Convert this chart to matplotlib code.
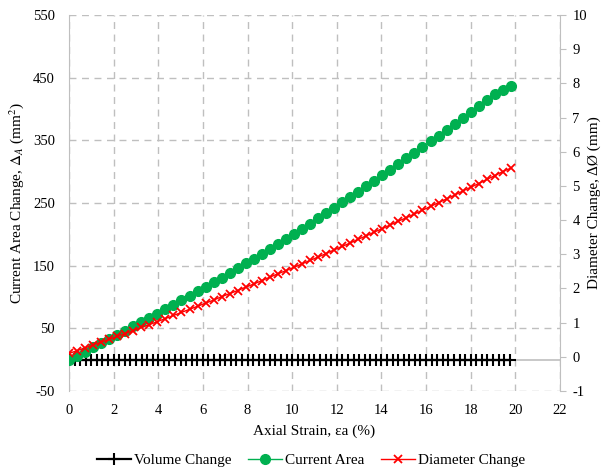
import matplotlib
matplotlib.use("Agg")
import matplotlib.pyplot as plt

plt.rcParams['font.family'] = ['Liberation Serif', 'DejaVu Serif']
plt.rcParams['axes.unicode_minus'] = False
plt.rcParams['mathtext.fontset'] = 'stix'

# Axial strain (%) sample points for area / diameter series
strain = [0, 0.36, 0.72, 1.08, 1.44, 1.8, 2.16, 2.52, 2.88, 3.24, 3.6, 3.96, 4.32, 4.68,
          5.04, 5.4, 5.76, 6.12, 6.48, 6.84, 7.2, 7.56, 7.92, 8.28, 8.64, 9.0, 9.36, 9.72,
          10.08, 10.44, 10.8, 11.16, 11.52, 11.88, 12.24, 12.6, 12.96, 13.32, 13.68, 14.04,
          14.4, 14.76, 15.12, 15.48, 15.84, 16.2, 16.56, 16.92, 17.28, 17.64, 18.0, 18.36,
          18.72, 19.08, 19.44, 19.8]

# Current area change (mm^2), left axis
area_change = [0, 6.5, 13.0, 19.6, 26.2, 32.8, 39.5, 46.2, 53.0, 59.8, 66.7, 73.6, 80.6, 87.6,
               94.7, 101.8, 109.0, 116.3, 123.6, 131.0, 138.4, 145.9, 153.5, 161.2, 169.0, 176.8,
               184.7, 192.7, 200.8, 208.9, 217.1, 225.4, 233.8, 242.3, 250.8, 259.4, 268.1, 276.8,
               285.6, 294.4, 303.3, 312.2, 321.2, 330.2, 339.3, 348.4, 357.6, 366.8, 376.1, 385.4,
               394.8, 404.2, 413.7, 423.2, 430.0, 437.0]

# Diameter change (mm), right axis
diam_change = [0.10, 0.18, 0.26, 0.35, 0.43, 0.51, 0.60, 0.68, 0.77, 0.86, 0.94, 1.03, 1.12, 1.21,
               1.30, 1.39, 1.48, 1.57, 1.66, 1.76, 1.85, 1.94, 2.04, 2.13, 2.23, 2.33, 2.43, 2.52,
               2.62, 2.72, 2.82, 2.92, 3.02, 3.13, 3.23, 3.33, 3.44, 3.54, 3.65, 3.75, 3.86, 3.97,
               4.07, 4.18, 4.29, 4.40, 4.51, 4.62, 4.73, 4.85, 4.96, 5.07, 5.19, 5.30, 5.42, 5.52]

# Volume change series (left axis), denser sampling
strain_vol = [0, 0.25, 0.5, 0.75, 1.0, 1.25, 1.5, 1.75, 2.0, 2.25, 2.5, 2.75, 3.0, 3.25, 3.5, 3.75,
              4.0, 4.25, 4.5, 4.75, 5.0, 5.25, 5.5, 5.75, 6.0, 6.25, 6.5, 6.75, 7.0, 7.25, 7.5, 7.75,
              8.0, 8.25, 8.5, 8.75, 9.0, 9.25, 9.5, 9.75, 10.0, 10.25, 10.5, 10.75, 11.0, 11.25, 11.5,
              11.75, 12.0, 12.25, 12.5, 12.75, 13.0, 13.25, 13.5, 13.75, 14.0, 14.25, 14.5, 14.75,
              15.0, 15.25, 15.5, 15.75, 16.0, 16.25, 16.5, 16.75, 17.0, 17.25, 17.5, 17.75, 18.0,
              18.25, 18.5, 18.75, 19.0, 19.25, 19.5, 19.75]
vol_change = [0.0] * len(strain_vol)

x_ticks = [0, 2, 4, 6, 8, 10, 12, 14, 16, 18, 20, 22]
left_ticks = [-50, 50, 150, 250, 350, 450, 550]
right_ticks = [-1, 0, 1, 2, 3, 4, 5, 6, 7, 8, 9, 10]

grid_c = '#bfbfbf'
fig = plt.figure(figsize=(6.08, 4.68), dpi=100)
ax = fig.add_axes([0.1135, 0.1645, 0.8075, 0.8035])
ax2 = ax.twinx()

ax.set_xlim(0, 22)
ax.set_ylim(-50, 550)
ax2.set_ylim(-1, 10)
ax.set_xticks(x_ticks)
ax.set_yticks(left_ticks)
ax2.set_yticks(right_ticks)

for a in (ax, ax2):
    for s in a.spines.values():
        s.set_visible(False)
ax.spines['left'].set_visible(True)
ax.spines['left'].set_color(grid_c)
ax2.spines['right'].set_visible(True)
ax2.spines['right'].set_color(grid_c)

ax.grid(True, color=grid_c, linestyle=(0, (5, 4)), linewidth=1.0)
ax.set_axisbelow(True)
ax.axhline(0, color=grid_c, linewidth=1.2, zorder=1)

ax.tick_params(axis='x', length=0, labelsize=10.5, pad=9)
ax.tick_params(axis='y', length=0, labelsize=10.5, pad=10)
ax2.tick_params(axis='y', length=4, color=grid_c, labelsize=10.5, pad=5)

l1, = ax.plot(strain_vol, vol_change, color='black', marker='+', markersize=8,
              markeredgewidth=1.5, linewidth=1.6, label='Volume Change', zorder=3)
l2, = ax.plot(strain, area_change, color='#00b050', marker='o', markersize=7,
              linewidth=1.0, label='Current Area', zorder=4)
l3, = ax2.plot(strain, diam_change, color='#ff0000', marker='x', markersize=6,
               markeredgewidth=1.3, linewidth=1.0, label='Diameter Change', zorder=5)

ax.set_xlabel('Axial Strain, εa (%)', fontsize=11, labelpad=6)
ax.set_ylabel('Current Area Change, $\\Delta_A$ (mm$^2$)', fontsize=11)
ax2.set_ylabel('Diameter Change, ΔØ (mm)', fontsize=11)
ax.yaxis.set_label_coords(-0.087, 0.5, transform=ax.transAxes)
ax2.yaxis.set_label_coords(1.057, 0.5, transform=ax2.transAxes)

leg = fig.legend(handles=[l1, l2, l3], loc='lower center', ncol=3, frameon=False,
                 fontsize=11, bbox_to_anchor=(0.512, -0.028), handlelength=2.2,
                 columnspacing=1.1, handletextpad=0.2)

fig.savefig('out.png', dpi=100)
